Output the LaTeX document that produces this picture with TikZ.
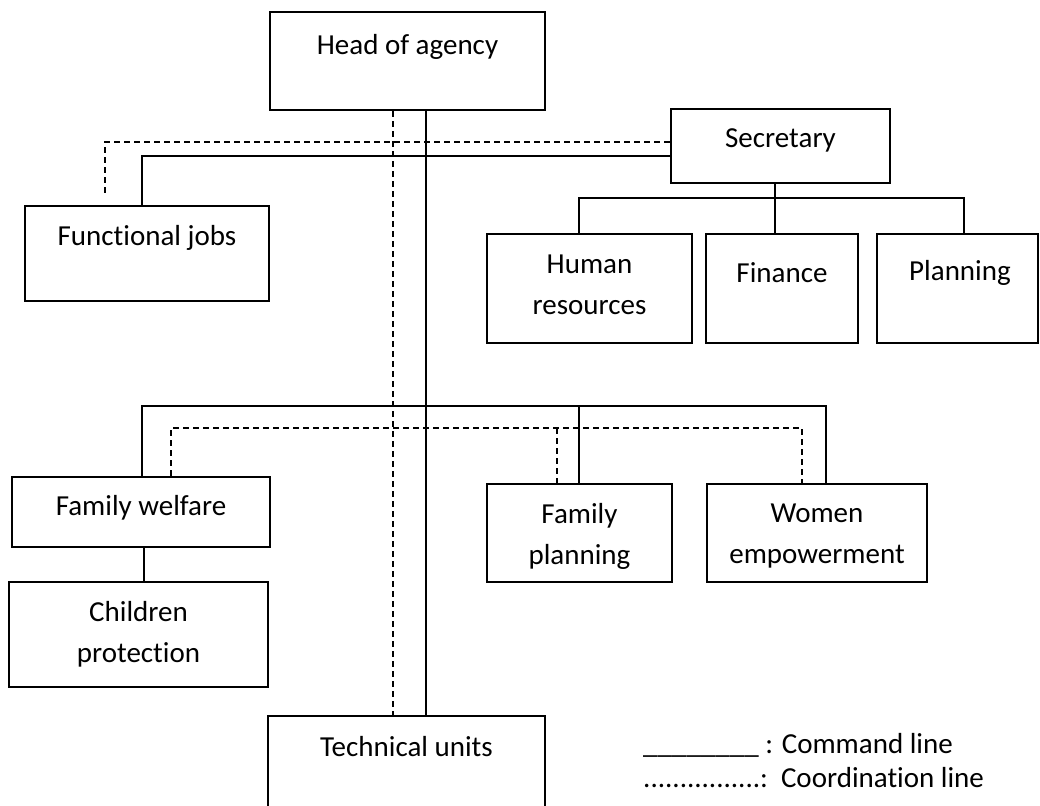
\documentclass[tikz,border=0pt]{standalone}
\usepackage{fontspec}
\setmainfont{Carlito}[Ligatures=NoCommon]
\begin{document}
\begin{tikzpicture}[x=1pt,y=-1pt]
\tikzset{
  orgbox/.style={draw=black, line width=2.6pt, inner sep=0pt},
  txt/.style={inner sep=0pt, font=\fontsize{29}{41}\selectfont, align=center},
  cmd/.style={draw=black, line width=1.3pt},
  crd/.style={draw=black, line width=1.3pt, dash pattern=on 6pt off 4pt},
}
\useasboundingbox (0,0) rectangle (1040,805);

% boxes
\node[orgbox, minimum width=275pt, minimum height=98pt]  (head) at (407.5,61)  {};
\node[orgbox, minimum width=219pt, minimum height=74pt]  (sec)  at (780.5,146) {};
\node[orgbox, minimum width=244pt, minimum height=95pt]  (func) at (147,253.5) {};
\node[orgbox, minimum width=205pt, minimum height=109pt] (hr)   at (589.5,288.5) {};
\node[orgbox, minimum width=152pt, minimum height=109pt] (fin)  at (782,288.5) {};
\node[orgbox, minimum width=161pt, minimum height=109pt] (plan) at (957.5,288.5) {};
\node[orgbox, minimum width=258pt, minimum height=70pt]  (fw)   at (141,512)   {};
\node[orgbox, minimum width=259pt, minimum height=105pt] (cp)   at (138.5,634.5) {};
\node[orgbox, minimum width=185pt, minimum height=98pt]  (fp)   at (579.5,533) {};
\node[orgbox, minimum width=220pt, minimum height=98pt]  (we)   at (817,533)   {};
\node[orgbox, minimum width=277pt, minimum height=104pt] (tech) at (406.5,768) {};

% box texts
\node[txt] (head-t) at (407.5,47) {Head of agency};
\node[txt] (sec-t)  at (780.5,140) {Secretary};
\node[txt] (func-t) at (147,238) {Functional jobs};
\node[txt] (hr-t)   at (589.5,285) {Human\\resources};
\node[txt] (fin-t)  at (782,273) {Finance};
\node[txt] (plan-t) at (960,273) {Planning};
\node[txt] (fw-t)   at (141,508) {Family welfare};
\node[txt] (cp-t)   at (138.5,634) {Children\\protection};
\node[txt] (fp-t)   at (579.5,536) {Family\\planning};
\node[txt] (we-t)   at (817,536) {Women\\empowerment};
\node[txt] (tech-t) at (406.5,747) {Technical units};

% head of agency down to technical units
\draw[cmd] (head.south -| 426,0) -- (tech.north -| 426,0);
\draw[crd] (head.south -| 393,0) -- (tech.north -| 393,0);

% secretary to functional jobs
\coordinate (func-dash) at (105,197);
\draw[cmd] (sec.west |- 0,156) -| (func.north -| 142,0);
\draw[crd] (sec.west |- 0,142) -| (func-dash);

% secretary to its units
\draw[cmd] (sec.south -| 775,0) -- (fin.north -| 775,0);
\draw[cmd] (hr.north -| 579,0) -- (579,198) -- (964,198) -- (plan.north -| 964,0);

% technical departments
\draw[cmd] (fw.north -| 142,0) -- (142,406) -- (826,406) -- (we.north -| 826,0);
\draw[cmd] (579,406) -- (fp.north -| 579,0);
\draw[crd] (fw.north -| 171,0) -- (171,428) -- (802,428) -- (we.north -| 802,0);
\draw[crd] (557,428) -- (fp.north -| 557,0);
\draw[cmd] (fw.south -| 144,0) -- (cp.north -| 144,0);

% legend
\node[txt, anchor=west] (leg-cmd) at (643,745) {\_\_\_\_\_\_\_\_ : Command line};
\node[txt, anchor=west] (leg-crd) at (643,778) {................:\ \ Coordination line};
\end{tikzpicture}
\end{document}
